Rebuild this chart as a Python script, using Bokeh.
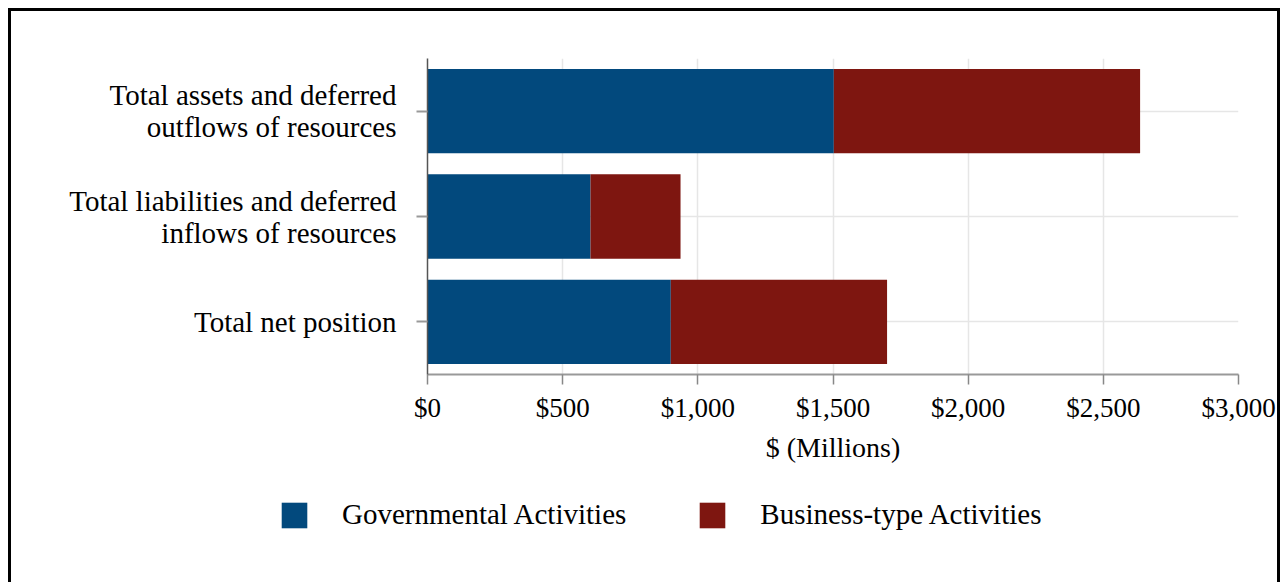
from bokeh.plotting import figure
from bokeh.models import ColumnDataSource, FactorRange, Range1d, FixedTicker, NumeralTickFormatter, Legend
from bokeh.embed import file_html
from bokeh.resources import INLINE

categories = [
    "Total assets and deferred\noutflows of resources",
    "Total liabilities and deferred\ninflows of resources",
    "Total net position",
]
governmental = [1503, 603, 900]
business_type = [1133, 333, 800]
series_names = ["Governmental Activities", "Business-type Activities"]
x_ticks = [0, 500, 1000, 1500, 2000, 2500, 3000]
x_label = "$ (Millions)"

BLUE = "#02497d"
RED = "#7e1610"
FONT = "Liberation Serif"
colors = [BLUE, RED]

source = ColumnDataSource(dict(cat=categories, gov=governmental, bus=business_type))

p = figure(
    width=1272, height=459,
    y_range=FactorRange(factors=list(reversed(categories)), range_padding=0),
    x_range=Range1d(0, 3000),
    output_backend="svg", toolbar_location=None,
    min_border_left=416, min_border_top=47, min_border_right=45, min_border_bottom=96,
    styles={"border-top": "3px solid black", "border-left": "3px solid black",
            "border-right": "3px solid black", "margin-left": "8px", "margin-top": "8px"},
)
p.outline_line_color = None

p.hbar_stack(["gov", "bus"], y="cat", height=0.8, color=colors, source=source, line_color=None)

p.xaxis.ticker = FixedTicker(ticks=x_ticks)
p.xaxis.formatter = NumeralTickFormatter(format="$0,0")
p.xaxis.axis_label = x_label

for ax in (p.xaxis, p.yaxis):
    ax.major_label_text_font = FONT
    ax.major_label_text_font_size = "27px"
    ax.major_label_text_color = "#000000"
    ax.axis_label_text_font = FONT
    ax.axis_label_text_font_size = "28px"
    ax.axis_label_text_font_style = "normal"
    ax.axis_label_text_color = "#000000"
    ax.minor_tick_line_color = None
    ax.major_tick_in = 0
    ax.major_tick_out = 10

p.yaxis.major_label_text_font_size = "29px"
p.yaxis.major_label_text_line_height = 1.0
p.yaxis.axis_line_color = "#555555"
p.yaxis.axis_line_width = 1.5
p.yaxis.major_tick_line_color = "#999999"
p.yaxis.major_tick_line_width = 2
p.yaxis.major_tick_out = 11
p.yaxis.major_label_standoff = 20

p.xaxis.axis_line_color = "#999999"
p.xaxis.axis_line_width = 2
p.xaxis.major_tick_line_color = "#888888"
p.xaxis.major_tick_line_width = 1.5
p.xaxis.major_label_standoff = 8
p.xaxis.axis_label_standoff = 6

p.xgrid.grid_line_color = "#e6e6e6"
p.xgrid.grid_line_width = 1.5
p.ygrid.grid_line_color = "#e6e6e6"
p.ygrid.grid_line_width = 1.5

# legend strip below the chart (separate root so its frame spans the full width)
p2 = figure(
    width=1272, height=115,
    y_range=FactorRange(factors=list(reversed(categories))),
    x_range=Range1d(-2, -1),  # keeps the helper bars out of view; only the legend shows
    x_axis_type=None, y_axis_type=None,
    output_backend="svg", toolbar_location=None,
    min_border=0,
    styles={"border-left": "3px solid black", "border-right": "3px solid black",
            "margin-left": "8px"},
)
p2.outline_line_color = None
p2.grid.visible = False
legend_renderers = p2.hbar_stack(["gov", "bus"], y="cat", height=0.8, color=colors,
                                 source=source, line_color=None)
lg = Legend(items=[(name, [r]) for name, r in zip(series_names, legend_renderers)])
lg.orientation = "horizontal"
lg.location = (267, 51)
lg.glyph_width = 32
lg.glyph_height = 32
lg.label_standoff = 32
lg.spacing = 70
lg.padding = 0
lg.margin = 0
lg.border_line_color = None
lg.background_fill_alpha = 0
lg.label_text_font = FONT
lg.label_text_font_size = "29px"
lg.label_text_color = "#000000"
p2.add_layout(lg, "center")

open("out.html", "w").write(file_html([p, p2], INLINE))
